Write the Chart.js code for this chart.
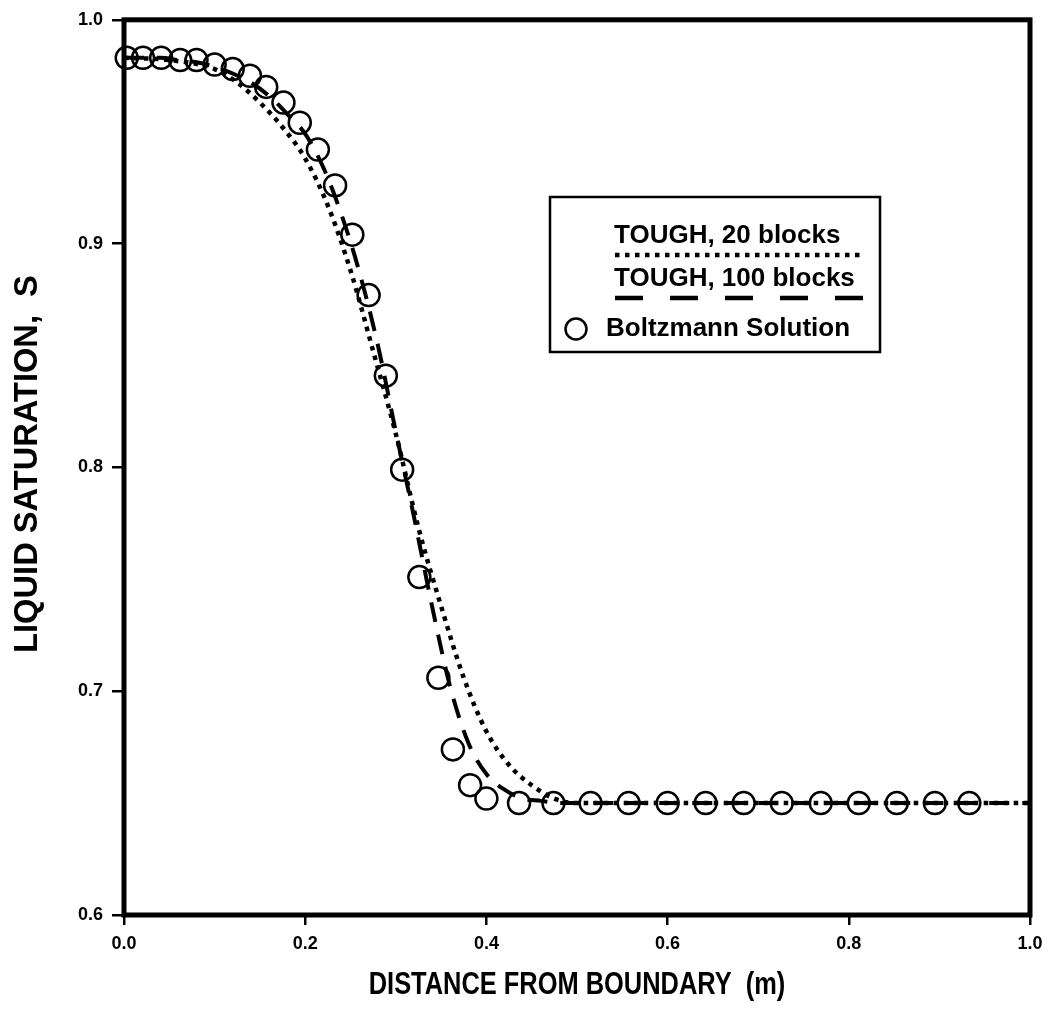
<!DOCTYPE html>
<html>
<head>
<meta charset="utf-8">
<script src="https://cdn.jsdelivr.net/npm/chart.js@4.4.1/dist/chart.umd.min.js"></script>
<style>
    html, body { margin: 0; padding: 0; background: #fff; }
    canvas { display: block; }
</style>
</head>
<body>
<canvas id="grafico" width="1052" height="1020"></canvas>
<script>
// Boltzmann solution (circles)
const dist_boltz = [0.003, 0.021, 0.041, 0.062, 0.080, 0.100, 0.120, 0.139, 0.157, 0.176, 0.194, 0.214,
    0.233, 0.252, 0.270, 0.289, 0.307, 0.326, 0.347, 0.363, 0.382, 0.400, 0.436, 0.474, 0.515, 0.557,
    0.600, 0.642, 0.684, 0.726, 0.769, 0.811, 0.853, 0.895, 0.933];
const sat_boltz = [0.983, 0.983, 0.983, 0.982, 0.982, 0.980, 0.978, 0.975, 0.970, 0.963, 0.954, 0.942,
    0.926, 0.904, 0.877, 0.841, 0.799, 0.751, 0.706, 0.674, 0.658, 0.652, 0.650, 0.650, 0.650, 0.650,
    0.650, 0.650, 0.650, 0.650, 0.650, 0.650, 0.650, 0.650, 0.650];

// TOUGH, 20 blocks (dotted)
const dist_20 = [0, 0.05, 0.10, 0.125, 0.15, 0.175, 0.20, 0.225, 0.25, 0.275, 0.30, 0.325, 0.35, 0.375,
    0.40, 0.425, 0.45, 0.475, 0.50, 0.60, 0.70, 0.80, 0.90, 1.00];
const sat_20 = [0.983, 0.982, 0.978, 0.972, 0.963, 0.952, 0.938, 0.917, 0.888, 0.852, 0.815, 0.773, 0.738, 0.706,
    0.682, 0.667, 0.658, 0.652, 0.650, 0.650, 0.650, 0.650, 0.650, 0.650];

// TOUGH, 100 blocks (dashed)
const dist_100 = [0, 0.02, 0.04, 0.06, 0.08, 0.10, 0.12, 0.14, 0.16, 0.18, 0.20, 0.22, 0.24, 0.26, 0.28,
    0.30, 0.32, 0.34, 0.36, 0.38, 0.40, 0.42, 0.44, 0.46, 0.48, 0.50, 0.60, 0.70, 0.80, 0.90, 1.00];
const sat_100 = [0.983, 0.983, 0.983, 0.982, 0.981, 0.979, 0.976, 0.972, 0.966, 0.958, 0.949, 0.934, 0.913, 0.887, 0.855,
    0.816, 0.778, 0.738, 0.702, 0.677, 0.663, 0.656, 0.652, 0.651, 0.650, 0.650, 0.650, 0.650, 0.650, 0.650, 0.650];

const ticks_x = [0.0, 0.2, 0.4, 0.6, 0.8, 1.0];
const ticks_y = [0.6, 0.7, 0.8, 0.9, 1.0];
const legenda = ['TOUGH, 20 blocks', 'TOUGH, 100 blocks', 'Boltzmann Solution'];
const titulo_x = 'DISTANCE FROM BOUNDARY  (m)';
const titulo_y = 'LIQUID SATURATION,  S';

const fonte = "'Liberation Sans', Arial, Helvetica, sans-serif";

function pontos(xs, ys){
    return xs.map((x, i) => ({x: x, y: ys[i]}));
}

// moldura grossa em volta da area do grafico
const moldura = {
    id: 'moldura',
    afterDatasetsDraw(chart){
        const {ctx, chartArea: a} = chart;
        ctx.save();
        ctx.strokeStyle = '#000';
        ctx.lineWidth = 5;
        ctx.strokeRect(a.left, a.top, a.right - a.left, a.bottom - a.top);
        ctx.restore();
    }
};

// titulos dos eixos (o do eixo x e condensado no original)
const titulos = {
    id: 'titulos',
    afterDraw(chart){
        const {ctx, chartArea: a} = chart;
        ctx.save();
        ctx.fillStyle = '#000';
        ctx.textAlign = 'center';
        ctx.textBaseline = 'middle';

        ctx.save();
        ctx.translate((a.left + a.right) / 2, 985);
        ctx.scale(0.82, 1);
        ctx.font = 'bold 31px ' + fonte;
        ctx.fillText(titulo_x, 0, 0);
        ctx.restore();

        ctx.save();
        ctx.translate(28, 464);
        ctx.rotate(-Math.PI / 2);
        ctx.scale(0.96, 1);
        ctx.font = 'bold 34px ' + fonte;
        ctx.fillText(titulo_y, 0, 0);
        ctx.restore();

        ctx.restore();
    }
};

// legenda desenhada na mao (linha embaixo do texto, como no original)
const caixaLegenda = {
    id: 'caixaLegenda',
    afterDraw(chart){
        const ctx = chart.ctx;
        ctx.save();
        ctx.fillStyle = '#fff';
        ctx.fillRect(550, 197, 330, 155);
        ctx.strokeStyle = '#000';
        ctx.lineWidth = 2.5;
        ctx.strokeRect(550, 197, 330, 155);

        ctx.fillStyle = '#000';
        ctx.font = 'bold 26px ' + fonte;
        ctx.textBaseline = 'middle';
        ctx.textAlign = 'left';
        ctx.fillText(legenda[0], 614, 236);
        ctx.fillText(legenda[1], 614, 279);
        ctx.fillText(legenda[2], 606, 329);

        ctx.lineCap = 'butt';
        ctx.lineWidth = 4.5;
        ctx.setLineDash([4.5, 5.5]);
        ctx.beginPath();
        ctx.moveTo(615, 255);
        ctx.lineTo(864, 255);
        ctx.stroke();

        ctx.setLineDash([28, 27]);
        ctx.beginPath();
        ctx.moveTo(615, 298);
        ctx.lineTo(864, 298);
        ctx.stroke();

        ctx.setLineDash([]);
        ctx.lineWidth = 2.5;
        ctx.beginPath();
        ctx.arc(576, 329, 10.5, 0, Math.PI * 2);
        ctx.stroke();
        ctx.restore();
    }
};

new Chart(document.getElementById('grafico'), {
    type: 'scatter',
    data: {
        datasets: [{
            label: legenda[2],
            data: pontos(dist_boltz, sat_boltz),
            pointStyle: 'circle',
            pointRadius: 11,
            pointBorderWidth: 2.5,
            borderColor: '#000',
            backgroundColor: 'rgba(0,0,0,0)',
            showLine: false,
            clip: false
        }, {
            label: legenda[1],
            data: pontos(dist_100, sat_100),
            showLine: true,
            pointRadius: 0,
            borderColor: '#000',
            borderWidth: 4,
            borderDash: [20, 13],
            borderCapStyle: 'butt',
            cubicInterpolationMode: 'monotone'
        }, {
            label: legenda[0],
            data: pontos(dist_20, sat_20),
            showLine: true,
            pointRadius: 0,
            borderColor: '#000',
            borderWidth: 4.5,
            borderDash: [4.5, 5.5],
            borderCapStyle: 'butt',
            cubicInterpolationMode: 'monotone'
        }]
    },
    options: {
        responsive: false,
        animation: false,
        devicePixelRatio: 1,
        layout: { padding: { left: 0, top: 14, right: 22, bottom: 0 } },
        plugins: {
            legend: { display: false },
            tooltip: { enabled: false }
        },
        scales: {
            x: {
                type: 'linear',
                min: 0,
                max: 1,
                afterBuildTicks: s => { s.ticks = ticks_x.map(v => ({value: v})); },
                afterFit: s => { s.height = 105; },
                grid: { display: true, drawOnChartArea: false, drawTicks: true, tickLength: 10, color: '#000', lineWidth: 2.5 },
                border: { display: false },
                ticks: {
                    color: '#000',
                    padding: 8,
                    maxRotation: 0,
                    font: { family: fonte, size: 18, weight: 'bold' },
                    callback: v => v.toFixed(1)
                }
            },
            y: {
                type: 'linear',
                min: 0.6,
                max: 1.0,
                afterBuildTicks: s => { s.ticks = ticks_y.map(v => ({value: v})); },
                afterFit: s => { s.width = 124; },
                grid: { display: true, drawOnChartArea: false, drawTicks: true, tickLength: 12, color: '#000', lineWidth: 2.5 },
                border: { display: false },
                ticks: {
                    color: '#000',
                    padding: 9,
                    font: { family: fonte, size: 18, weight: 'bold' },
                    callback: v => v.toFixed(1)
                }
            }
        }
    },
    plugins: [moldura, titulos, caixaLegenda]
});
</script>
</body>
</html>
